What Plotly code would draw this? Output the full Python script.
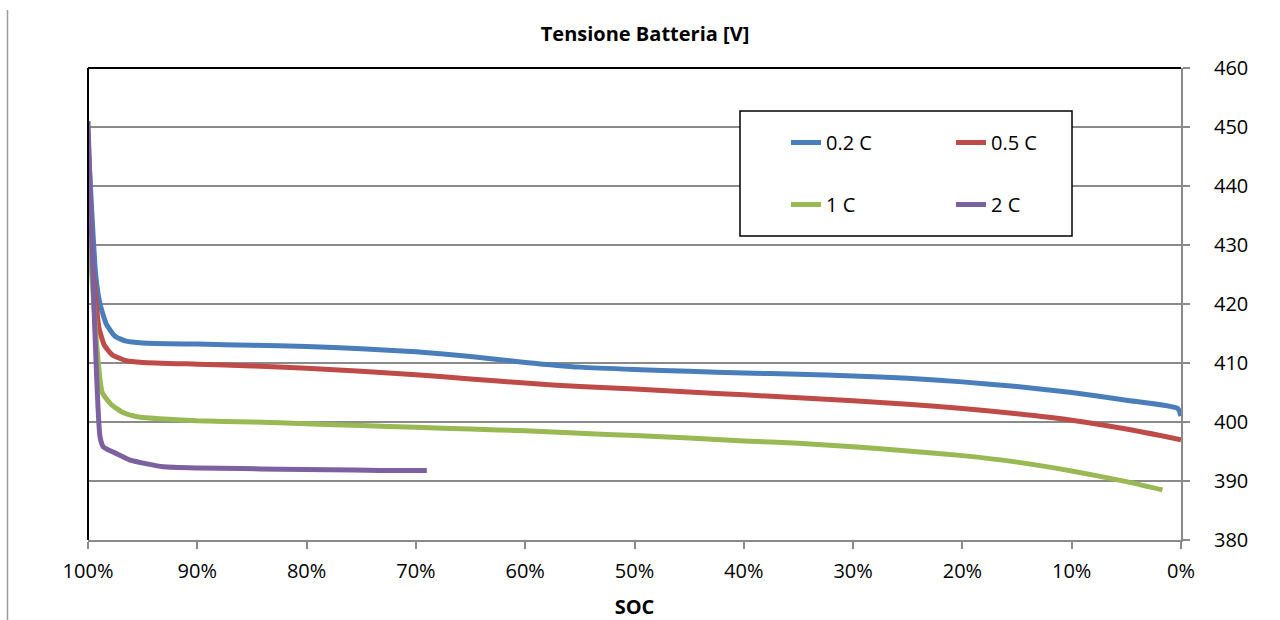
import plotly.graph_objects as go

# ---- data ----
soc_02 = [100, 99.3, 98.9, 98.3, 97.5, 96.5, 95, 90, 85, 80, 75, 70, 65, 60, 55, 50, 45, 40, 35, 30, 25, 20, 15, 10, 5, 0.3, 0]
v_02 = [448, 425, 420, 416.5, 414.5, 413.7, 413.4, 413.2, 413.0, 412.8, 412.4, 411.9, 411.1, 410.1, 409.3, 408.9, 408.6, 408.3, 408.1, 407.8, 407.4, 406.8, 406.0, 405.0, 403.7, 402.3, 401.0]

soc_05 = [100, 99.5, 99.0, 98.5, 97.8, 96.5, 95, 90, 85, 80, 75, 70, 65, 60, 55, 50, 45, 40, 35, 30, 25, 20, 15, 10, 5, 0]
v_05 = [437, 425, 416, 413, 411.4, 410.4, 410.1, 409.8, 409.5, 409.1, 408.6, 408.0, 407.3, 406.6, 406.0, 405.6, 405.1, 404.6, 404.1, 403.6, 403.0, 402.3, 401.4, 400.3, 398.8, 397.0]

soc_1 = [100, 99.2, 98.7, 97.9, 96.8, 95.5, 93, 90, 85, 80, 75, 70, 65, 60, 55, 50, 45, 40, 35, 30, 25, 20, 15, 10, 5, 1.7]
v_1 = [435, 413, 405, 403, 401.6, 400.9, 400.5, 400.2, 400.0, 399.7, 399.4, 399.1, 398.8, 398.5, 398.1, 397.7, 397.3, 396.8, 396.4, 395.8, 395.1, 394.3, 393.2, 391.7, 389.9, 388.5]

soc_2 = [100, 98.9, 98.6, 97.7, 96.8, 96.2, 94.6, 93.1, 90, 86, 82.4, 78, 73.3, 69]
v_2 = [451, 397.5, 395.8, 394.9, 394.1, 393.6, 392.9, 392.4, 392.2, 392.1, 392.0, 391.9, 391.8, 391.8]

series_names = ["0.2 C", "0.5 C", "1 C", "2 C"]
colors = ["#4A7EBB", "#BE4B48", "#98B954", "#7D60A0"]

x_tickvals = [100, 90, 80, 70, 60, 50, 40, 30, 20, 10, 0]
x_ticktext = ["100%", "90%", "80%", "70%", "60%", "50%", "40%", "30%", "20%", "10%", "0%"]
y_tickvals = [380, 390, 400, 410, 420, 430, 440, 450, 460]

FONT = "Open Sans"
W, H = 1280, 620
L, R, T, B = 88, 99, 68, 80
PW, PH = W - L - R, H - T - B

def px_x(p):
    return (p - L) / PW

def px_y(p):
    return (H - B - p) / PH

fig = go.Figure()
data = [(soc_02, v_02), (soc_05, v_05), (soc_1, v_1), (soc_2, v_2)]
legends = ["legend", "legend2", "legend", "legend2"]
for (xs, ys), name, col, lg in zip(data, series_names, colors, legends):
    fig.add_trace(go.Scatter(
        x=xs, y=ys, name=name, mode="lines",
        line=dict(color=col, width=5, shape="spline", smoothing=0.5),
        legend=lg, legendgroup=name,
    ))

grid_col = "#8A8A8A"
fig.update_layout(
    width=W, height=H,
    margin=dict(l=L, r=R, t=T, b=B, autoexpand=False),
    paper_bgcolor="white", plot_bgcolor="white",
    font=dict(family=FONT, size=20, color="black"),
    title=dict(text="<b>Tensione Batteria [V]</b>", x=645 / W, xanchor="center",
               y=1 - 34 / H, yanchor="middle", yref="container",
               font=dict(family=FONT, size=20, color="black")),
    xaxis=dict(range=[100, 0], tickvals=x_tickvals, ticktext=x_ticktext,
               showgrid=False, zeroline=False, showline=True, linecolor=grid_col, linewidth=2,
               ticks="outside", ticklen=7, tickcolor=grid_col, tickwidth=2,
               ticklabelstandoff=5, automargin=False,
               title=dict(text="<b>SOC</b>", font=dict(family=FONT, size=20), standoff=17),
               tickfont=dict(family=FONT, size=20)),
    yaxis=dict(range=[380, 460], tickvals=y_tickvals, side="right",
               showgrid=True, gridcolor=grid_col, gridwidth=1.5, zeroline=False,
               showline=True, linecolor=grid_col, linewidth=2,
               ticks="outside", ticklen=7, tickcolor=grid_col, tickwidth=2,
               ticklabelstandoff=20, automargin=False, tickfont=dict(family=FONT, size=20)),
    legend=dict(x=px_x(786), y=px_y(123), xanchor="left", yanchor="top",
                bgcolor="rgba(0,0,0,0)", borderwidth=0, tracegroupgap=33,
                font=dict(family=FONT, size=20)),
    legend2=dict(x=px_x(951), y=px_y(123), xanchor="left", yanchor="top",
                 bgcolor="rgba(0,0,0,0)", borderwidth=0, tracegroupgap=33,
                 font=dict(family=FONT, size=20)),
    shapes=[
        # legend box
        dict(type="rect", xref="paper", yref="paper",
             x0=px_x(740), x1=px_x(1072), y0=px_y(236), y1=px_y(111),
             line=dict(color="black", width=1.5), fillcolor="white", layer="above"),
        # black top and left plot border
        dict(type="line", xref="paper", yref="paper", x0=0, x1=1, y0=1, y1=1,
             line=dict(color="black", width=2), layer="above"),
        dict(type="line", xref="paper", yref="paper", x0=0, x1=0, y0=0, y1=1,
             line=dict(color="black", width=2), layer="above"),
        # left page border line
        dict(type="line", xref="paper", yref="paper", x0=px_x(7.5), x1=px_x(7.5),
             y0=px_y(620), y1=px_y(10), line=dict(color="#9A9A9A", width=1.5)),
    ],
)

fig.write_html("out.html", config={"displayModeBar": False},
               post_script="document.body.style.margin='0';document.body.style.overflow='hidden';")
